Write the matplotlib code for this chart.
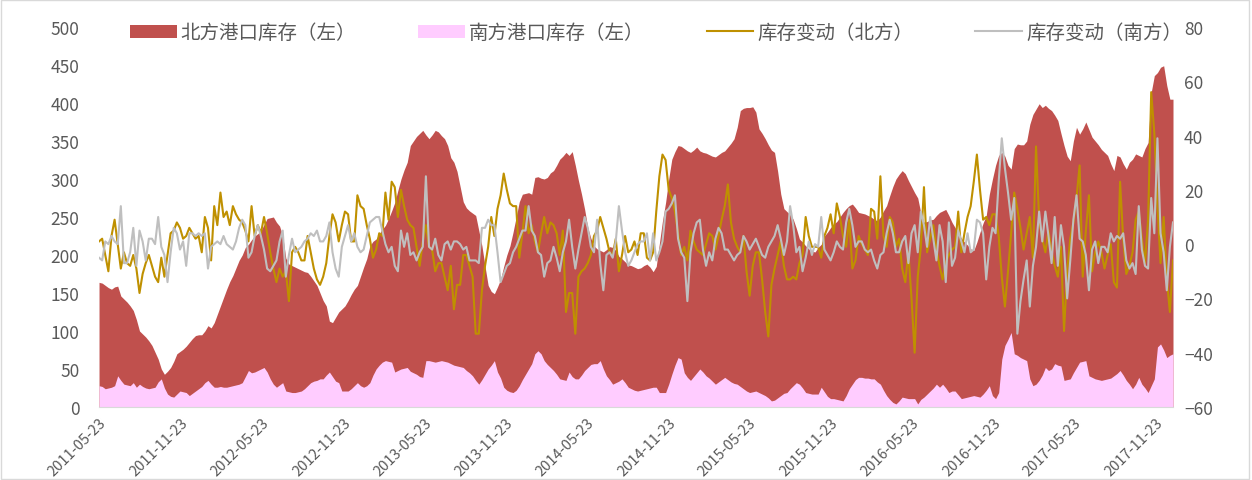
import pandas as pd
import matplotlib
matplotlib.use('Agg')
import matplotlib.pyplot as plt
from matplotlib.patches import Patch, Rectangle
from matplotlib.lines import Line2D

plt.rcParams['font.family'] = ['Noto Sans CJK SC', 'DejaVu Sans']

start_date = '2011-05-23'
tick_dates = ['2011-05-23', '2011-11-23', '2012-05-23', '2012-11-23', '2013-05-23',
              '2013-11-23', '2014-05-23', '2014-11-23', '2015-05-23', '2015-11-23',
              '2016-05-23', '2016-11-23', '2017-05-23', '2017-11-23']
labels = ['北方港口库存（左）', '南方港口库存（左）', '库存变动（北方）', '库存变动（南方）']

# weekly port stocks (left axis)
north_stock = [
    164, 163, 160, 157, 155, 158, 159, 146, 142,
    138, 133, 127, 115, 100, 96, 92, 87, 81, 72,
    63, 50, 43, 47, 52, 60, 70, 73, 76,
    80, 85, 90, 94, 95, 95, 100, 107, 104,
    111, 122, 133, 144, 155, 165, 173, 183, 193, 200,
    210, 214, 220, 225, 228, 232, 240, 248, 249,
    250, 243, 238, 225, 196, 188, 186, 184, 182,
    180, 178, 177, 172, 166, 160, 150, 140, 133,
    113, 111, 118, 125, 129, 133, 140, 148, 155, 160,
    172, 184, 195, 212, 218, 221, 228, 234, 239,
    248, 258, 269, 285, 300, 312, 322, 344, 350,
    356, 360, 364, 358, 353, 358, 364, 362, 357, 353,
    344, 328, 322, 310, 290, 270, 262, 258, 255,
    252, 232, 212, 185, 160, 152, 149, 158, 168,
    185, 200, 212, 230, 250, 270, 280, 281, 282, 280,
    302, 303, 301, 300, 302, 308, 311, 318, 326,
    330, 335, 331, 336, 318, 298, 280, 260, 236,
    222, 212, 208, 206, 204, 207, 211, 210, 206,
    198, 195, 191, 187, 186, 184, 182, 183, 186, 188,
    184, 178, 185, 215, 245, 269, 300, 326, 336,
    344, 343, 340, 337, 335, 338, 342, 337, 335,
    334, 332, 330, 329, 332, 335, 337, 342, 347, 353,
    368, 390, 393, 394, 394, 395, 388, 366, 360,
    353, 345, 338, 335, 310, 280, 261, 257, 253,
    247, 235, 221, 217, 212, 208, 205, 204, 210, 214,
    225, 230, 236, 241, 244, 250, 256, 261, 265,
    267, 262, 256, 255, 254, 252, 250, 247, 245,
    250, 258, 265, 278, 290, 300, 306, 311, 307,
    298, 290, 282, 275, 255, 243, 244, 246, 247, 252,
    256, 258, 260, 252, 243, 236, 229, 222, 217,
    213, 208, 206, 217, 230, 242, 252, 280, 300,
    318, 331, 335, 330, 318, 313, 340, 346, 345, 345,
    350, 372, 385, 392, 399, 394, 397, 393, 390,
    384, 377, 360, 344, 330, 324, 350, 368, 359,
    366, 375, 365, 355, 350, 345, 339, 335, 331, 320,
    311, 331, 329, 320, 313, 322, 326, 333, 331,
    329, 340, 348, 414, 436, 440, 447, 449, 423,
    405, 405]

south_stock = [
    28, 27, 24, 25, 26, 28, 41, 35, 30,
    29, 28, 32, 26, 30, 27, 25, 24, 25, 26,
    33, 37, 25, 17, 14, 13, 17, 21, 20,
    19, 15, 18, 21, 24, 27, 32, 35, 30,
    26, 26, 27, 26, 26, 27, 28, 29, 30, 32,
    40, 48, 45, 46, 48, 50, 52, 46, 37,
    30, 26, 29, 32, 21, 20, 19, 19, 20,
    21, 24, 28, 32, 34, 35, 37, 37, 42,
    46, 40, 34, 32, 21, 21, 21, 24, 28, 32,
    28, 26, 28, 32, 42, 50, 55, 59, 61,
    60, 59, 46, 48, 50, 51, 52, 47, 45,
    43, 40, 39, 61, 61, 60, 59, 60, 61, 60,
    59, 57, 55, 54, 53, 52, 48, 45, 41,
    35, 30, 36, 43, 50, 55, 61, 46, 38,
    26, 22, 20, 19, 22, 28, 36, 43, 50, 57,
    70, 74, 70, 61, 56, 52, 48, 43, 37,
    36, 35, 46, 40, 37, 37, 42, 48, 52,
    56, 57, 57, 61, 50, 41, 36, 30, 32,
    34, 37, 32, 26, 24, 22, 21, 22, 23, 24,
    25, 26, 26, 19, 19, 19, 30, 43, 55,
    65, 63, 45, 39, 35, 40, 45, 50, 46,
    41, 38, 34, 30, 33, 36, 39, 36, 33, 31,
    30, 27, 24, 21, 19, 20, 21, 19, 17,
    15, 12, 8, 9, 12, 15, 18, 19, 24,
    28, 32, 30, 25, 19, 18, 17, 17, 17, 26,
    20, 14, 11, 11, 10, 9, 8, 15, 24,
    30, 36, 39, 39, 38, 38, 37, 37, 33,
    30, 22, 15, 10, 6, 4, 8, 13, 12,
    11, 11, 11, 4, 10, 13, 17, 21, 25, 30,
    26, 30, 25, 19, 21, 21, 16, 11, 12,
    13, 14, 15, 14, 13, 17, 22, 28, 15,
    11, 19, 63, 81, 89, 98, 70, 68, 65, 63,
    61, 37, 28, 30, 35, 42, 52, 48, 50,
    57, 55, 54, 35, 36, 37, 45, 52, 59,
    60, 61, 41, 39, 37, 36, 35, 36, 37, 38,
    41, 44, 48, 42, 35, 30, 24, 30, 39,
    30, 25, 19, 28, 37, 79, 83, 75, 65,
    68, 70]

# weekly stock changes (right axis)
north_chg = [
    1, 2, -4, -10, 3, 9, 0, -9, -3,
    -7, -8, -4, -9, -18, -11, -7, -4, -8, -12,
    -14, -5, -12, -4, 4, 5, 8, 6, 2,
    3, 6, 4, 2, 3, -3, 10, 6, -6,
    14, 7, 19, 10, 12, 7, 14, 11, 9, 8,
    5, 1, 14, 3, 7, 4, 10, 4, -3,
    -9, -14,
    -9, -12, -10, -21, -3, -1, -3, -6, -6,
    3, -3, -9, -13, -15, -12, -7, 3, 11,
    8, 1, 7, 12, 11, 1, 1, 18, 14,
    13, 7, 2, -5, -2, 4, 3, 19, 9, 23,
    21, 10, 20, 14, 9, 7, 6, -1, -8,
    1, 7, -1, -2, -10, -7, -7, -12, -17,
    -8, -24,
    -15, -15, -4, -4, -8, -12, -33, -33, -17, -8,
    -1, 10, 3, 13, 18, 26, 20, 15, 14,
    14, -5, 4, 14, 4, 7, 1, -3, 4,
    10, 4, 8, 7, 4, -4, 5, -25, -18,
    -18, -33, -12, -10, -9, -7, -4, 3, 5, 10,
    6, 2, -3, -4, 2, -10, -4, 3, -3,
    -2, 1,
    -4, 4, 4, -5, -6, -3, 12, 25, 33,
    31, 20, 17, 12, 4, -4, -1, -6, 5, 1,
    -2, -3, -4, 0, 4, 3, -2, 3, 9,
    14, 22, 8, 2, -1, -3, 3, -10, -19,
    -8, -3, -3, -13, -25, -34, -15, -9, -4, 1,
    -8, -13, -13, -12, -13, -7, -4, 10, 3,
    -1, -1,
    -1, -5, 3, 6, 11, 4, 15, 10, 3,
    -1, 9, -9, -6, 3, 0, -2, -4, 13,
    12, 2, 25, 3, -1, 10, 8, -1, 2, -9,
    -14, -3, -20, -40, -12, -1, 21, -3, 2,
    7, -2, -8, -13, -7, -4, -2, -1, 12,
    -3, 4, 10, 14, 23, 33, 20, 9, 10,
    7, 11,
    11, 3, -12, -23, -10, 4, 19, 13, 6, -2,
    4, 10, -5, 36, 9, 2, -3, 5, -3,
    -8, -12, -1, -32, -10, 2, 8, 17, 29,
    -12, 5, 18, -10, -3, 1, -3, -9, -4, 0,
    -14, -16, 23, 2, -11, -8, -3, 9, 12,
    2, -7, 9, 56, 41, 14, -7, 10, -13,
    -25, -6]

south_chg = [
    -5, -6, 1, 0, 3, 1, 0, 14, -7,
    -7, -3, 6, -8, 5, 1, -6, 2, 2, 0,
    10, -1, -4, -14, -3, 6, 4, -2, 1,
    -8, 4, 4, 3, 4, 3, 4, -9, -1,
    0, 1, 0, 3, 0, -1, -2, 1, 6, 9,
    7, -5, -3, 3, 7, 3, -2, -9, -10,
    -8, -6,
    1, 5, -12, -4, 2, -3, -2, -1, 1,
    2, 4, 3, 5, 1, 1, 3, 8, -3,
    -9, -12, -1, 3, 7, 1, 4, -1, -3,
    -2, 3, 8, 9, 10, 10, 5, 0, -3, -1,
    -8, -10, 5, -1, 4, -4, -3, -6, -3,
    -1, 25, -1, -2, 2, -4, -6, 0, 1,
    -2, 1,
    1, 0, -2, -1, -6, -6, -6, -7, 6, 6,
    9, 7, 7, -3, -14, -11, -8, -7, -3,
    -1, 2, 5, 5, 14, 5, 3, -3, -4,
    -12, -7, -6, -1, -5, -10, -3, 1, 9, -1,
    -9, -2, 4, 10, 6, -1, -3, 9, -7,
    -17, -4, -3, -5, 1, 14, 5, -3, -8,
    -6, -3,
    0, 1, 1, 4, -6, 4, -6, -3, 1,
    12, 13, 15, 18, 2, -3, -5, -21, -3, 4,
    8, 9, -2, -8, -3, -6, 2, 6, 4,
    -2, -2, -4, -6, -4, -3, 3, 1, -2,
    0, 2, -1, -4, -5, -1, 1, 3, 7, 2,
    -4, 1, 14, 7, -3, -1, -10, -5, 1,
    -4, 0,
    -1, 10, -2, -4, -6, -3, 1, -1, -2,
    8, 13, 7, -1, 1, 1, -2, -3, -2,
    -6, -9, -4, -3, 4, 9, 4, -3, -3,
    1, 3, -7, 4, 7, -3, 12, 7, -1, 10,
    2, -6, 7, 1, -14, 8, -8, -5, 5,
    1, -3, 4, -3, -2, 9, 8, 4, -13,
    -1, 6,
    4, 23, 39, 28, 19, 9, 17, -33, -21, -13,
    -6, -23, -8, -1, 12, 1, 12, 3, -7,
    10, -8, 7, -1, -20, -6, 9, 18, 2,
    1, -4, -17, -2, 1, -7, -1, -1, -3, 4,
    1, 3, 2, 4, -6, -9, -7, -11, 14,
    -2, -8, -9, 17, 4, 39, 4, -3, -17,
    -1, 8]

dates = pd.date_range(start_date, periods=len(north_stock), freq='7D')

gray = '#595959'
fig = plt.figure(figsize=(12.52, 4.81), dpi=100)
fig.patches.append(Rectangle((0.001, 0.002), 0.997, 0.996, transform=fig.transFigure,
                             fill=False, ec='#D9D9D9', lw=1))

ax = fig.add_axes([0.0791, 0.1518, 0.8578, 0.79])
ax.fill_between(dates, north_stock, color='#C0504D', lw=0)
ax.fill_between(dates, south_stock, color='#FFCCFF', lw=0)
ax.set_ylim(0, 500)
ax.set_yticks(range(0, 501, 50))
ax.set_xlim(dates[0], dates[-1])
ax.set_xticks(pd.to_datetime(tick_dates))
ax.set_xticklabels(tick_dates, rotation=45, ha='right', rotation_mode='anchor')

ax2 = ax.twinx()
ax2.plot(dates, north_chg, color='#BF9000', lw=1.5)
ax2.plot(dates, south_chg, color='#BFBFBF', lw=1.5)
ax2.set_ylim(-60, 80)
ax2.set_yticks(range(-60, 81, 20))

for a in (ax, ax2):
    for s in ('top', 'left', 'right', 'bottom'):
        a.spines[s].set_visible(False)
ax.spines['bottom'].set_visible(True)
ax.spines['bottom'].set_color('#D9D9D9')

ax.tick_params(axis='y', length=0, pad=14, labelsize=12.5, labelcolor=gray)
ax.tick_params(axis='x', length=0, pad=6, labelsize=10.5, labelcolor=gray)
ax2.tick_params(axis='y', length=0, pad=8, labelsize=12.5, labelcolor=gray)

handles = [Patch(fc='#C0504D'), Patch(fc='#FFCCFF'),
           Line2D([], [], color='#BF9000', lw=1.5),
           Line2D([], [], color='#BFBFBF', lw=1.5)]
leg = fig.legend(handles, labels, loc='center', bbox_to_anchor=(0.524, 0.93), ncol=4,
                 frameon=False, fontsize=14, handlelength=2.4, handletextpad=0.2,
                 columnspacing=3.2)
for t in leg.get_texts():
    t.set_color(gray)

fig.savefig('out.png', dpi=100)
